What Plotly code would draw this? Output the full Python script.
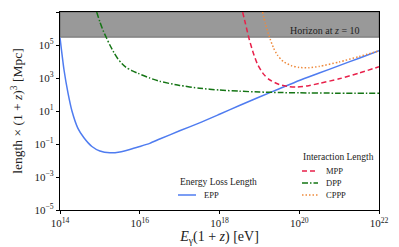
import numpy as np
import plotly.graph_objects as go

# log10 values
epp_logE = [14.0, 14.1, 14.2, 14.3, 14.45, 14.6, 14.8, 15.0, 15.25, 15.5, 15.75, 16.0, 16.25, 16.5, 17.0, 17.5, 18.0, 18.5, 19.0, 19.5, 20.0, 20.5, 21.0, 21.5, 22.0]
epp_logL = [5.45, 3.5, 2.1, 1.0, -0.05, -0.62, -1.15, -1.42, -1.53, -1.48, -1.33, -1.15, -0.96, -0.7, -0.2, 0.28, 0.8, 1.33, 1.85, 2.35, 2.85, 3.3, 3.75, 4.2, 4.65]

dpp_logE = [14.92, 15.0, 15.08, 15.17, 15.25, 15.35, 15.45, 15.55, 15.65, 15.8, 15.96, 16.25, 16.5, 17.0, 17.5, 18.0, 18.5, 19.0, 19.5, 20.0, 21.0, 22.0]
dpp_logL = [7.0, 6.4, 5.88, 5.41, 5.0, 4.55, 4.17, 3.88, 3.66, 3.45, 3.28, 3.0, 2.8, 2.55, 2.38, 2.27, 2.2, 2.15, 2.12, 2.1, 2.08, 2.07]

mpp_logE = [18.58, 18.65, 18.75, 18.85, 18.95, 19.1, 19.25, 19.5, 19.75, 19.95, 20.2, 20.5, 21.0, 21.5, 22.0]
mpp_logL = [7.0, 6.3, 5.3, 4.5, 3.85, 3.25, 2.9, 2.6, 2.48, 2.45, 2.52, 2.67, 2.95, 3.3, 3.68]

cppp_logE = [19.08, 19.15, 19.25, 19.35, 19.45, 19.6, 19.8, 20.0, 20.25, 20.5, 21.0, 21.5, 22.0]
cppp_logL = [7.0, 6.3, 5.5, 4.85, 4.4, 4.0, 3.75, 3.64, 3.62, 3.7, 3.97, 4.3, 4.65]

horizon_L = 3.0e5
x_min, x_max = 1e14, 1e22
y_top = 1e7

x_tickvals = [1e14, 1e16, 1e18, 1e20, 1e22]
x_ticktext = ["10<sup>14</sup>", "10<sup>16</sup>", "10<sup>18</sup>", "10<sup>20</sup>", "10<sup>22</sup>"]
y_tickvals = [1e-5, 1e-3, 1e-1, 1e1, 1e3, 1e5, 1e7]
y_ticktext = ["10<sup>−5</sup>", "10<sup>−3</sup>", "10<sup>−1</sup>", "10<sup>1</sup>", "10<sup>3</sup>", "10<sup>5</sup>", "10<sup>7</sup>"]

FONT = "Liberation Serif"
TXT = "#222222"

def p(v):
    return list(10 ** np.array(v))

series = [
    ("EPP", epp_logE, epp_logL, "#4f7cf0", "solid"),
    ("MPP", mpp_logE, mpp_logL, "#e8204a", "5px,3px"),
    ("DPP", dpp_logE, dpp_logL, "#157515", "6px,2px,1.5px,2px"),
    ("CPPP", cppp_logE, cppp_logL, "#ee8a3c", "1.5px,2px"),
]

fig = go.Figure()

# horizon band
fig.add_trace(go.Scatter(
    x=[x_min, x_max, x_max, x_min, x_min],
    y=[horizon_L, horizon_L, y_top, y_top, horizon_L],
    fill="toself", fillcolor="#999999", mode="lines",
    line=dict(color="#6e6e6e", width=1), showlegend=False, hoverinfo="skip"))

for name, lx, ly, col, dash in series:
    fig.add_trace(go.Scatter(x=p(lx), y=p(ly), mode="lines", name=name, showlegend=False,
        line=dict(color=col, width=1.5, dash=dash, shape="spline", smoothing=0.6)))

fig.add_annotation(text="Horizon at <i>z</i> = 10", xref="paper", yref="paper",
    x=0.947, y=0.905, xanchor="right", yanchor="middle", showarrow=False,
    font=dict(family=FONT, size=10, color=TXT))

# manual legends (paper coordinates; screen pixels of the plot area 60..379 x 12..210)
def px2paper(xp, yp):
    return (xp - 60) / 319.0, (210 - yp) / 198.0

def legend_block(title, tx, ty, entries):
    x0, y0 = px2paper(tx, ty)
    fig.add_annotation(text=title, xref="paper", yref="paper", x=x0, y=y0,
        xanchor="left", yanchor="middle", showarrow=False,
        font=dict(family=FONT, size=9.5, color=TXT))
    for name, col, dash, lx0, lx1, ey in entries:
        a0, b0 = px2paper(lx0, ey)
        a1, _ = px2paper(lx1, ey)
        fig.add_shape(type="line", xref="paper", yref="paper", x0=a0, x1=a1, y0=b0, y1=b0,
            line=dict(color=col, width=1.5, dash=dash))
        t0, _ = px2paper(lx1 + 6, ey)
        fig.add_annotation(text=name, xref="paper", yref="paper", x=t0, y=b0,
            xanchor="left", yanchor="middle", showarrow=False,
            font=dict(family=FONT, size=8.5, color=TXT))

style = {s[0]: (s[3], s[4]) for s in series}
legend_block("Energy Loss Length", 178, 182,
    [("EPP", style["EPP"][0], style["EPP"][1], 178, 196, 195)])
legend_block("Interaction Length", 301, 157,
    [("MPP", style["MPP"][0], style["MPP"][1], 302, 318, 171),
     ("DPP", style["DPP"][0], style["DPP"][1], 302, 318, 183),
     ("CPPP", style["CPPP"][0], style["CPPP"][1], 302, 318, 195)])

axis_common = dict(showgrid=False, zeroline=False, showline=True, linecolor="black",
    linewidth=1.2, mirror=True, ticks="outside", ticklen=3, tickwidth=1, tickcolor="black",
    automargin=False, tickfont=dict(family=FONT, size=11, color=TXT))

fig.update_xaxes(type="log", range=[14, 22], tickvals=x_tickvals, ticktext=x_ticktext,
    title=dict(text="<i>E</i><sub>γ</sub>(1 + <i>z</i>) [eV]", font=dict(family=FONT, size=14, color=TXT), standoff=2),
    **axis_common)
fig.update_yaxes(type="log", range=[-5, 7], tickvals=y_tickvals, ticktext=y_ticktext,
    title=dict(text="length × (1 + <i>z</i>)<sup>3</sup> [Mpc]", font=dict(family=FONT, size=13.5, color=TXT), standoff=8),
    **axis_common)

# page body has an 8px margin, so the figure is offset by 8px on screen
fig.update_layout(
    width=399, height=247, margin=dict(l=52, r=28, t=4, b=45),
    paper_bgcolor="white", plot_bgcolor="white", showlegend=False,
)

fig.write_html("out.html")
